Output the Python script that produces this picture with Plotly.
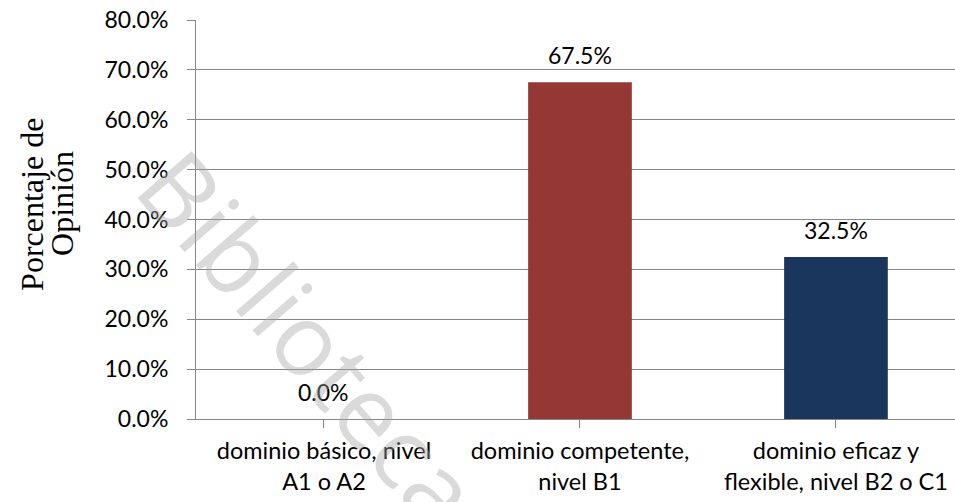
import plotly.graph_objects as go

categories = ["dominio básico, nivel<br>A1 o A2",
              "dominio competente,<br>nivel B1",
              "dominio eficaz y<br>flexible, nivel B2 o C1"]
values = [0.0, 67.5, 32.5]
colors = ["#953735", "#953735", "#1a365d"]
y_ticks = [0, 10, 20, 30, 40, 50, 60, 70, 80]
y_tick_labels = [f"{v:.1f}%" for v in y_ticks]
y_title_lines = ["Porcentaje de", "Opinión"]
watermark = "Biblioteca"

FONT = "Lato"
GRID = "#868686"

fig = go.Figure()
fig.add_trace(go.Bar(
    x=list(range(len(categories))),
    y=values,
    marker=dict(color=colors, line=dict(width=0)),
    hoverinfo="skip",
))

for i, v in enumerate(values):
    fig.add_annotation(x=i, y=v, xref="x", yref="y", text=f"{v:.1f}%",
                       showarrow=False, yshift=27,
                       font=dict(family=FONT, size=23, color="#000000"))

for line, xp in zip(y_title_lines, [-0.2161, -0.1765]):
    fig.add_annotation(xref="paper", yref="paper", x=xp, y=0.539,
                       text=line, showarrow=False,
                       textangle=-90, xanchor="center", yanchor="middle",
                       font=dict(family="Liberation Serif", size=32, color="#000000"))

fig.add_annotation(xref="paper", yref="paper", x=0.1515, y=0.203,
                   text=watermark, showarrow=False, textangle=49,
                   xanchor="center", yanchor="middle", opacity=0.4,
                   font=dict(family="Open Sans", size=100, color="#a4a4a4"))

fig.update_layout(
    width=955, height=502,
    margin=dict(l=196, r=0, t=20, b=83, autoexpand=False),
    paper_bgcolor="white", plot_bgcolor="white",
    bargap=0.595,
    showlegend=False,
    hovermode=False,
    font=dict(family=FONT, size=23, color="#000000"),
)
fig.update_xaxes(
    tickmode="array", tickvals=list(range(len(categories))), ticktext=categories,
    range=[-0.5, 2.465], tickson="boundaries", ticks="outside", ticklen=8,
    tickcolor=GRID, showline=True, linecolor=GRID, linewidth=1,
    showgrid=False, zeroline=False, tickfont=dict(family=FONT, size=23.5),
    ticklabelstandoff=3, automargin=False, ticklabeloverflow="allow",
)
fig.update_yaxes(
    tickmode="array", tickvals=y_ticks, ticktext=y_tick_labels,
    range=[0, 80], ticks="outside", ticklen=8, tickcolor=GRID,
    showline=True, linecolor=GRID, linewidth=1,
    showgrid=True, gridcolor=GRID, gridwidth=1, zeroline=False,
    tickfont=dict(family=FONT, size=23), ticklabelstandoff=14, automargin=False,
    ticklabeloverflow="allow",
)

fig.write_html("out.html",
               config={"displayModeBar": False},
               post_script="document.body.style.margin='0';document.body.style.overflow='hidden';")
